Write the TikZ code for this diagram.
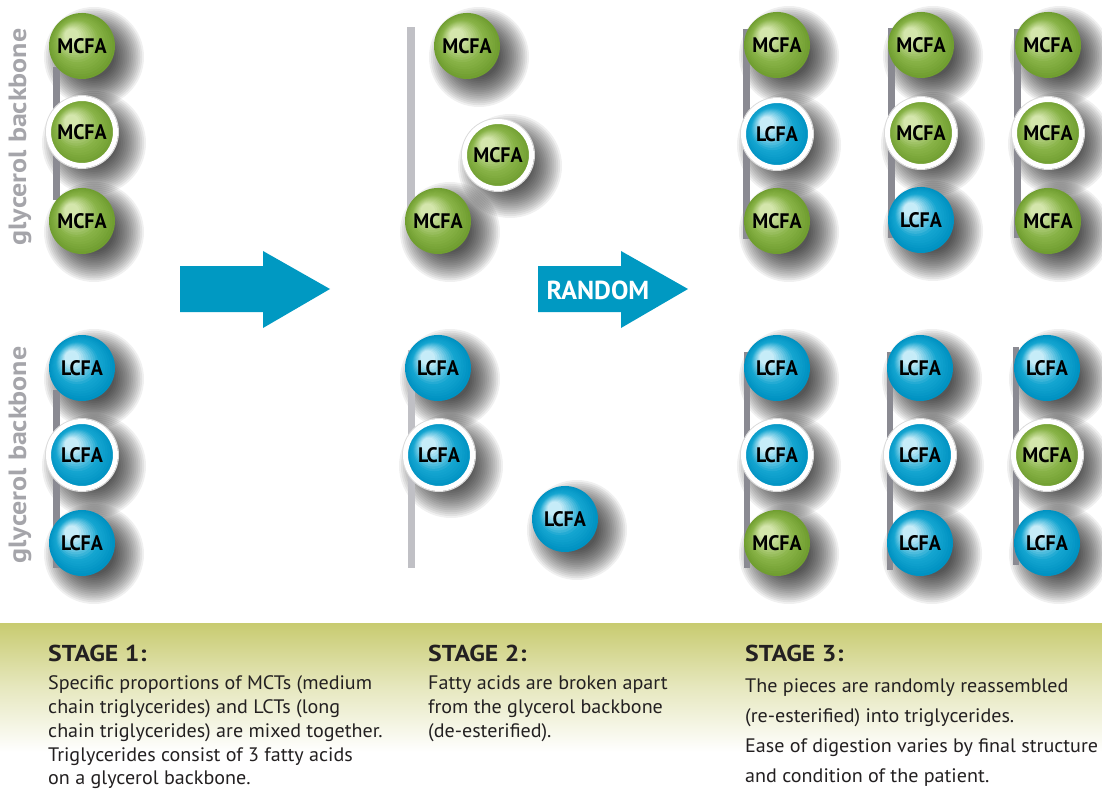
\documentclass[tikz,border=0pt]{standalone}
\usepackage{fontspec}
\setmainfont{PT Sans}
\newfontfamily\bodyfont{PT Sans}[FakeStretch=1.03]
\newfontfamily\headfont{PT Sans}[FakeStretch=1.12]
\newfontfamily\ballfont{PT Sans}[FakeStretch=0.95]
\newfontfamily\sidefont{PT Sans}[FakeStretch=1.12]
\definecolor{gHi}{RGB}{212,230,172}
\definecolor{gMain}{RGB}{135,178,70}
\definecolor{gEdge}{RGB}{112,158,48}
\definecolor{bHi}{RGB}{198,236,248}
\definecolor{bMain}{RGB}{20,165,208}
\definecolor{bEdge}{RGB}{0,146,194}
\definecolor{arrowblue}{RGB}{0,153,194}
\definecolor{bargray}{RGB}{138,138,146}
\definecolor{barlight}{RGB}{192,192,197}
\definecolor{labelgray}{RGB}{165,165,170}
\definecolor{band}{RGB}{200,203,112}
\definecolor{textdark}{RGB}{35,32,33}
\pgfdeclarelayer{shadows}
\pgfdeclarelayer{bars}
\pgfdeclarelayer{balls}
\pgfsetlayers{shadows,bars,balls,main}
\tikzset{
  fa/.style={circle, inner sep=0pt, minimum size=66pt, text=black,
    font=\ballfont\bfseries\fontsize{21}{21}\selectfont},
  mcfa/.style={fa},
  lcfa/.style={fa},
  ringed/.style={minimum size=67pt, draw=white, line width=5pt},
  rim/.style={draw=black!14, line width=1pt},
  shadowdisc/.style={fill=black, fill opacity=0.058},
  backbone/.style={fill=bargray},
  backbonelight/.style={fill=barlight},
  sidelabel/.style={rotate=90, text=labelgray, font=\sidefont\bfseries\fontsize{25}{25}\selectfont},
  bigarrow/.style={fill=arrowblue},
  heading/.style={anchor=base west, inner sep=0pt, text=textdark, font=\headfont\bfseries\fontsize{23}{23}\selectfont},
  body/.style={anchor=base west, inner sep=0pt, text=textdark, font=\bodyfont\fontsize{19.5}{19.5}\selectfont}
}
% soft shadow made of stacked translucent discs
\newcommand\softshadow[3]{% x y maxradius
  \begin{pgfonlayer}{shadows}
  \foreach \r in {54,52,...,22}{
    \fill[shadowdisc] (#1+12,#2+11) circle ({\r*#3/54 pt});}
  \end{pgfonlayer}}
% shaded sphere made of stepped discs
\newcommand\sphere[4]{% x y prefix radius
  \begin{pgfonlayer}{balls}
  \foreach \i in {0,...,17}{
    \pgfmathsetmacro\tt{1-\i*0.052}
    \pgfmathtruncatemacro\pa{min(100,max(0,(1-\tt)/0.3*100))}
    \pgfmathtruncatemacro\pb{min(100,max(0,(0.68-\tt)/0.45*100))}
    \colorlet{tmpc}{#3Main!\pa!#3Edge}
    \colorlet{tmpc}{#3Hi!\pb!tmpc}
    \fill[tmpc] ({#1-(1-\tt)*13},{#2-(1-\tt)*13}) circle ({\tt*#4 pt});}
  \end{pgfonlayer}}
\newcommand\FA[6]{% name style x y label colorprefix
  \softshadow{#3}{#4}{50}
  \sphere{#3}{#4}{#6}{33}
  \node[#2] (#1) at (#3,#4) {#5};}
\newcommand\FAR[6]{%
  \softshadow{#3}{#4}{52}
  \begin{pgfonlayer}{bars}\draw[rim] (#3,#4) circle (36.5pt);\end{pgfonlayer}
  \sphere{#3}{#4}{#6}{33}
  \node[#2, ringed] (#1) at (#3,#4) {#5};}
\begin{document}
\begin{tikzpicture}[x=1pt,y=-1pt]
\useasboundingbox (0,0) rectangle (1102,802);
\begin{pgfonlayer}{shadows}
\fill[white] (0,0) rectangle (1102,802);
\shade[top color=band, bottom color=white, middle color=band!45] (0,623) rectangle (1102,752);
\end{pgfonlayer}

% side labels
\node[sidelabel] (gb1) at (20,137) {glycerol backbone};
\node[sidelabel] (gb2) at (20,455) {glycerol backbone};

% backbones
\begin{pgfonlayer}{bars}
\fill[backbone] (53,67) rectangle (60,200);
\fill[backbone] (53,390) rectangle (60,568);
\fill[backbonelight] (407,27) rectangle (415,238);
\fill[backbonelight] (408,350) rectangle (415,568);
\fill[backbone] (743,29) rectangle (750,239);
\fill[backbone] (888,28) rectangle (895,238);
\fill[backbone] (1014,29) rectangle (1021,238);
\fill[backbone] (744,352) rectangle (750,568);
\fill[backbone] (887,352) rectangle (893,570);
\fill[backbone] (1013,347) rectangle (1019,565);
\end{pgfonlayer}

% stage 1
\FA{a1}{mcfa}{82}{46}{MCFA}{g}
\FAR{a2}{mcfa}{82}{132}{MCFA}{g}
\FA{a3}{mcfa}{82}{221}{MCFA}{g}
\FA{a4}{lcfa}{82}{368}{LCFA}{b}
\FAR{a5}{lcfa}{82}{455}{LCFA}{b}
\FA{a6}{lcfa}{82}{543}{LCFA}{b}

% stage 2
\FA{b1}{mcfa}{467}{46}{MCFA}{g}
\FAR{b2}{mcfa}{498}{155}{MCFA}{g}
\FA{b3}{mcfa}{438}{221}{MCFA}{g}
\FA{b4}{lcfa}{438}{368}{LCFA}{b}
\FAR{b5}{lcfa}{439}{455}{LCFA}{b}
\FA{b6}{lcfa}{565}{519}{LCFA}{b}

% stage 3 top
\FA{c1}{mcfa}{777}{45}{MCFA}{g}
\FAR{c2}{lcfa}{777}{134}{LCFA}{b}
\FA{c3}{mcfa}{777}{221}{MCFA}{g}
\FA{c4}{mcfa}{921}{45}{MCFA}{g}
\FAR{c5}{mcfa}{921}{133}{MCFA}{g}
\FA{c6}{lcfa}{921}{220}{LCFA}{b}
\FA{c7}{mcfa}{1048}{45}{MCFA}{g}
\FAR{c8}{mcfa}{1048}{133}{MCFA}{g}
\FA{c9}{mcfa}{1048}{221}{MCFA}{g}
% stage 3 bottom
\FA{d1}{lcfa}{777}{368}{LCFA}{b}
\FAR{d2}{lcfa}{777}{455}{LCFA}{b}
\FA{d3}{mcfa}{777}{543}{MCFA}{g}
\FA{d4}{lcfa}{920}{368}{LCFA}{b}
\FAR{d5}{lcfa}{920}{455}{LCFA}{b}
\FA{d6}{lcfa}{920}{543}{LCFA}{b}
\FA{d7}{lcfa}{1047}{368}{LCFA}{b}
\FAR{d8}{mcfa}{1047}{455}{MCFA}{g}
\FA{d9}{lcfa}{1047}{543}{LCFA}{b}

% arrows
\fill[bigarrow] (180,266) -- (263,266) -- (263,251) -- (330,289) -- (263,328) -- (263,312) -- (180,312) -- cycle;
\fill[bigarrow] (538,266) -- (621,266) -- (621,251) -- (688,289) -- (621,328) -- (621,312) -- (538,312) -- cycle;
\node[text=white, font=\bfseries\fontsize{26}{26}\selectfont, inner sep=0pt] (rnd) at (598,290) {RANDOM};

% texts
\node[heading] (h1) at (48,661) {STAGE 1:};
\node[body] (t11) at (48,689) {Specific proportions of MCTs (medium};
\node[body] (t12) at (48,713) {chain triglycerides) and LCTs (long};
\node[body] (t13) at (48,737) {chain triglycerides) are mixed together.};
\node[body] (t14) at (48,761) {Triglycerides consist of 3 fatty acids};
\node[body] (t15) at (48,784) {on a glycerol backbone.};

\node[heading] (h2) at (428,661) {STAGE 2:};
\node[body] (t21) at (428,689) {Fatty acids are broken apart};
\node[body] (t22) at (428,713) {from the glycerol backbone};
\node[body] (t23) at (428,737) {(de-esterified).};

\node[heading] (h3) at (745,661) {STAGE 3:};
\node[body] (t31) at (745,692) {The pieces are randomly reassembled};
\node[body] (t32) at (745,722) {(re-esterified) into triglycerides.};
\node[body] (t33) at (745,752) {Ease of digestion varies by final structure};
\node[body] (t34) at (745,782) {and condition of the patient.};
\end{tikzpicture}
\end{document}
